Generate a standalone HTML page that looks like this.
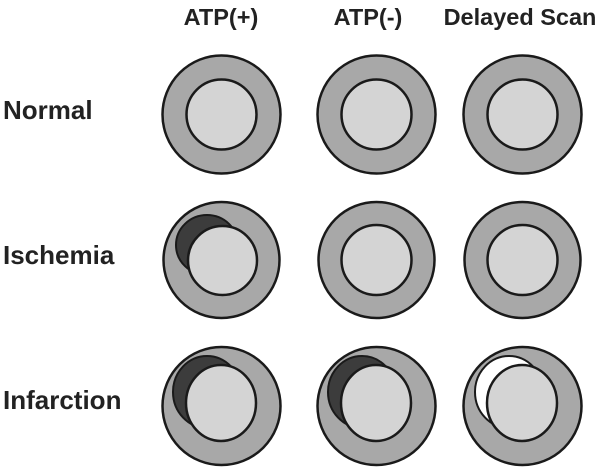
<!DOCTYPE html>
<html><head><meta charset="utf-8"><style>body{margin:0;background:#fff}svg{display:block}</style></head>
<body>
<svg width="600" height="469" viewBox="0 0 600 469" xmlns="http://www.w3.org/2000/svg" font-family="Liberation Sans, sans-serif" font-weight="bold" fill="#222">
<g font-size="23.5" text-anchor="middle" fill="#222">
<text x="221" y="25">ATP(+)</text>
<text x="368" y="25">ATP(-)</text>
<text x="520" y="25">Delayed Scan</text>
</g>
<g font-size="26" fill="#222">
<text x="3" y="119">Normal</text>
<text x="3" y="264">Ischemia</text>
<text x="3" y="409">Infarction</text>
</g>
<g stroke="#1a1a1a" stroke-width="2.5">
<circle cx="221.5" cy="114.5" r="59" fill="#a8a8a8"/>
<circle cx="221.5" cy="114.5" r="35" fill="#d4d4d4"/>
<circle cx="376.5" cy="114.5" r="59" fill="#a8a8a8"/>
<circle cx="376.5" cy="114.5" r="35" fill="#d4d4d4"/>
<circle cx="522.5" cy="114.5" r="59" fill="#a8a8a8"/>
<circle cx="522.5" cy="114.5" r="35" fill="#d4d4d4"/>
<circle cx="221.5" cy="260" r="58" fill="#a8a8a8"/>
<ellipse cx="207" cy="245" rx="31" ry="30" fill="#3c3c3c" stroke-width="2"/>
<circle cx="222.5" cy="260.5" r="34.5" fill="#d4d4d4"/>
<circle cx="376.5" cy="260" r="58" fill="#a8a8a8"/>
<circle cx="376.5" cy="260" r="35" fill="#d4d4d4"/>
<circle cx="522.5" cy="260" r="58" fill="#a8a8a8"/>
<circle cx="522.5" cy="260" r="35" fill="#d4d4d4"/>
<circle cx="221.5" cy="406" r="59" fill="#a8a8a8"/>
<ellipse cx="207" cy="392" rx="34" ry="36" fill="#3c3c3c" stroke-width="2"/>
<ellipse cx="221" cy="403" rx="35" ry="38" fill="#d4d4d4"/>
<circle cx="376.5" cy="406" r="59" fill="#a8a8a8"/>
<ellipse cx="362" cy="392" rx="34" ry="36" fill="#3c3c3c" stroke-width="2"/>
<ellipse cx="376" cy="403" rx="35" ry="38" fill="#d4d4d4"/>
<circle cx="522.5" cy="406" r="59" fill="#a8a8a8"/>
<ellipse cx="509" cy="392" rx="34" ry="36" fill="#ffffff" stroke-width="2"/>
<ellipse cx="522" cy="403" rx="35" ry="38" fill="#d4d4d4"/>
</g>
</svg>
</body></html>
